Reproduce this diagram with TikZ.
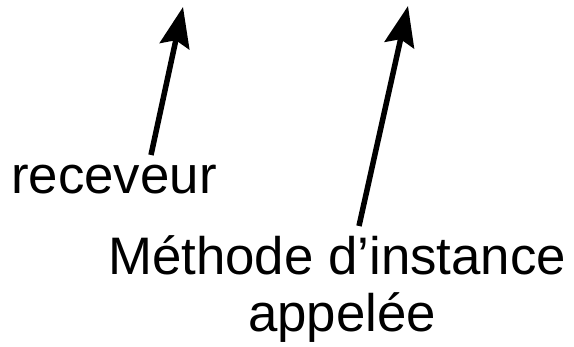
\documentclass[tikz,border=0pt]{standalone}
\usepackage{fontspec}
\setmainfont{Liberation Sans}
\usetikzlibrary{arrows.meta}
\begin{document}
\begin{tikzpicture}[x=1pt,y=1pt,
  lbl/.style={inner sep=0pt,anchor=base west,font=\fontsize{52.8}{60}\selectfont},
  ptr/.style={line width=5.5pt,-{Stealth[length=40pt,width=30pt,inset=6pt]}}]
\useasboundingbox (0,0) rectangle (574,347);
\node[lbl] (rec) at (11,153) {receveur};
\node[lbl] (meth) at (108,72) {Méthode d’instance};
\node[lbl] (app) at (248,15) {appelée};
\coordinate (t1) at (183,340);
\coordinate (t2) at (408,341);
\coordinate (s1) at (151,192);
\coordinate (s2) at (359,121);
\draw[ptr] (s1) -- (t1);
\draw[ptr] (s2) -- (t2);
\end{tikzpicture}
\end{document}
